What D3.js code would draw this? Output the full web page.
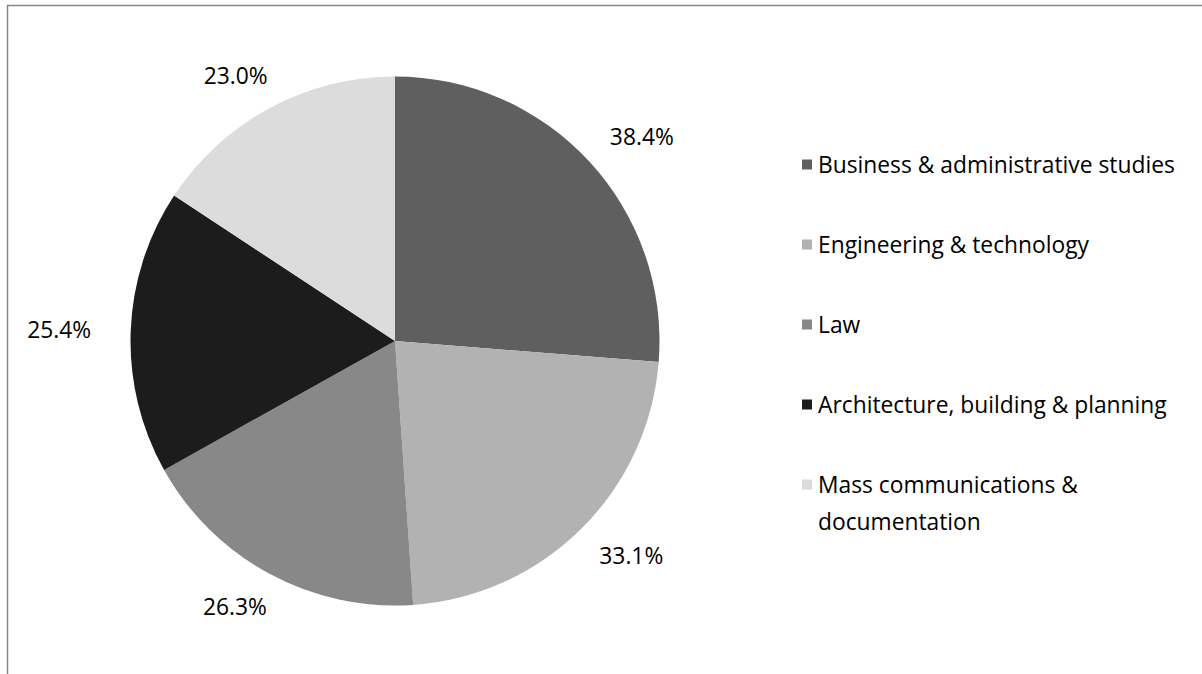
<!DOCTYPE html>
<html>
<head>
<meta charset="utf-8">
<script src="https://cdn.jsdelivr.net/npm/d3@7"></script>
<style>
  html, body { margin: 0; padding: 0; background: #fff; }
  svg { display: block; }
  text { font-family: "Open Sans", Lato, sans-serif; fill: #000; }
</style>
</head>
<body>
<svg id="chart" width="1202" height="674"></svg>
<script>
const categories = [
  "Business & administrative studies",
  "Engineering & technology",
  "Law",
  "Architecture, building & planning",
  "Mass communications & documentation"
];
const legendLines = [
  ["Business & administrative studies"],
  ["Engineering & technology"],
  ["Law"],
  ["Architecture, building & planning"],
  ["Mass communications &", "documentation"]
];
const values = [38.4, 33.1, 26.3, 25.4, 23.0];
const labels = ["38.4%", "33.1%", "26.3%", "25.4%", "23.0%"];
const colors = ["#5f5f5f", "#b2b2b2", "#888888", "#1c1c1c", "#dcdcdc"];

const svg = d3.select("#chart");
const fontSize = 22.8;

// outer frame
svg.append("rect")
  .attr("x", 7.5).attr("y", 5.5)
  .attr("width", 1400).attr("height", 1000)
  .attr("fill", "none").attr("stroke", "#868686").attr("stroke-width", 1.5);

const cx = 395, cy = 341, r = 264.5;
const g = svg.append("g").attr("transform", `translate(${cx},${cy})`);

const pie = d3.pie().sort(null).value(d => d);
const arcs = pie(values);
const arc = d3.arc().innerRadius(0).outerRadius(r);

g.selectAll("path.slice")
  .data(arcs)
  .enter().append("path")
  .attr("class", "slice")
  .attr("d", arc)
  .attr("fill", (d, i) => colors[i]);

// labels outside end
g.selectAll("text.lbl")
  .data(arcs)
  .enter().append("text")
  .attr("class", "lbl")
  .attr("font-size", fontSize)
  .attr("text-anchor", "middle")
  .attr("dominant-baseline", "central")
  .text((d, i) => labels[i])
  .each(function(d) {
    const a = (d.startAngle + d.endAngle) / 2;
    const w = this.getComputedTextLength();
    const x = Math.sin(a) * (304 + w / 2);
    const y = -Math.cos(a) * 302;
    d3.select(this).attr("x", x).attr("y", y);
  });

// legend
const legendY = d3.scalePoint().domain(categories).range([164, 484]);
const items = svg.append("g").selectAll("g.item")
  .data(categories)
  .enter().append("g")
  .attr("class", "item")
  .attr("transform", d => `translate(802,${legendY(d)})`);
items.append("rect")
  .attr("x", 0).attr("y", -4.5)
  .attr("width", 10).attr("height", 10)
  .attr("fill", (d, i) => colors[i]);
items.append("text")
  .attr("font-size", fontSize)
  .attr("dominant-baseline", "central")
  .each(function(d, i) {
    const t = d3.select(this);
    legendLines[i].forEach((ln, j) => {
      t.append("tspan").attr("x", 16).attr("y", j * 37).text(ln);
    });
  });
</script>
</body>
</html>
